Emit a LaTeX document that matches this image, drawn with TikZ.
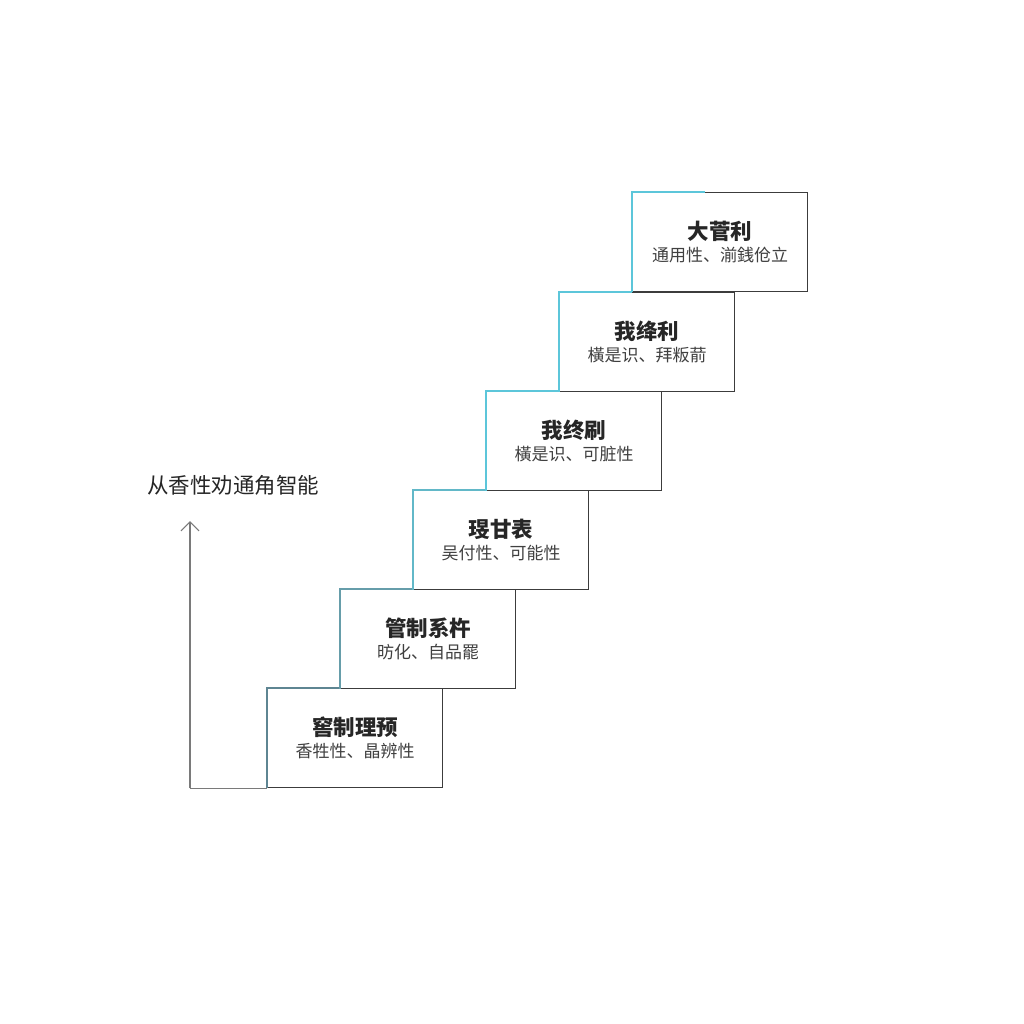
\documentclass[tikz,border=0pt]{standalone}
\usepackage{fontspec}
\setmainfont{Noto Sans CJK SC}
\usetikzlibrary{arrows.meta}
\definecolor{edge}{HTML}{3C3C3C}
\definecolor{cA}{HTML}{5E8592}
\definecolor{cB}{HTML}{669DAA}
\definecolor{cC}{HTML}{62B8C8}
\definecolor{cD}{HTML}{5CC6DA}
\definecolor{axis}{HTML}{7A7A7A}
\tikzset{
  stepbox/.style={draw=edge, line width=1.4pt, fill=white, minimum width=175pt, minimum height=99pt, inner sep=0pt, anchor=north west},
  ttl/.style={font=\bfseries\fontsize{21.5pt}{24pt}\selectfont, text=black!85},
  sub/.style={font=\fontsize{17pt}{20pt}\selectfont, text=black!75},
}
\begin{document}
\begin{tikzpicture}[x=1pt,y=-1pt]
\useasboundingbox (0,0) rectangle (1024,1024);
% boxes
\foreach \i/\x/\y/\c/\t/\s in {
 1/267/688/cA/窖制理预/香牲性、晶辨性,
 2/340/589/cB/管制系杵/昉化、自品罷,
 3/413/490/cC/琝甘表/吴付性、可能性,
 4/486/391/cD/我终刷/橫是识、可脏性,
 5/559/292/cD/我绛利/橫是识、拜粄葥,
 6/632/192/cD/大菅利/通用性、湔銭伧立}{
  \node[stepbox] (b\i) at (\x,\y) {};
  \draw[\c, line width=1.4pt] ([xshift=73pt]b\i.north west) -- (b\i.north west) -- (b\i.south west);
  \node[ttl] (t\i) at ([yshift=11pt]b\i.center) {\t};
  \node[sub] (s\i) at ([yshift=-13pt]b\i.center) {\s};
}
% axis
\coordinate (top) at (190,521);
\coordinate (corner) at (b1.south west -| top);
\draw[axis, line width=1.4pt] (b1.south west) -- (corner);
\draw[axis, line width=1.4pt, -{Straight Barb[length=9pt,width=18pt,line width=1.2pt]}] (corner) -- (top);
\node[font=\fontsize{21.5pt}{24pt}\selectfont, text=black!85] (lbl) at (233,485) {从香性劝通角智能};
\end{tikzpicture}
\end{document}
